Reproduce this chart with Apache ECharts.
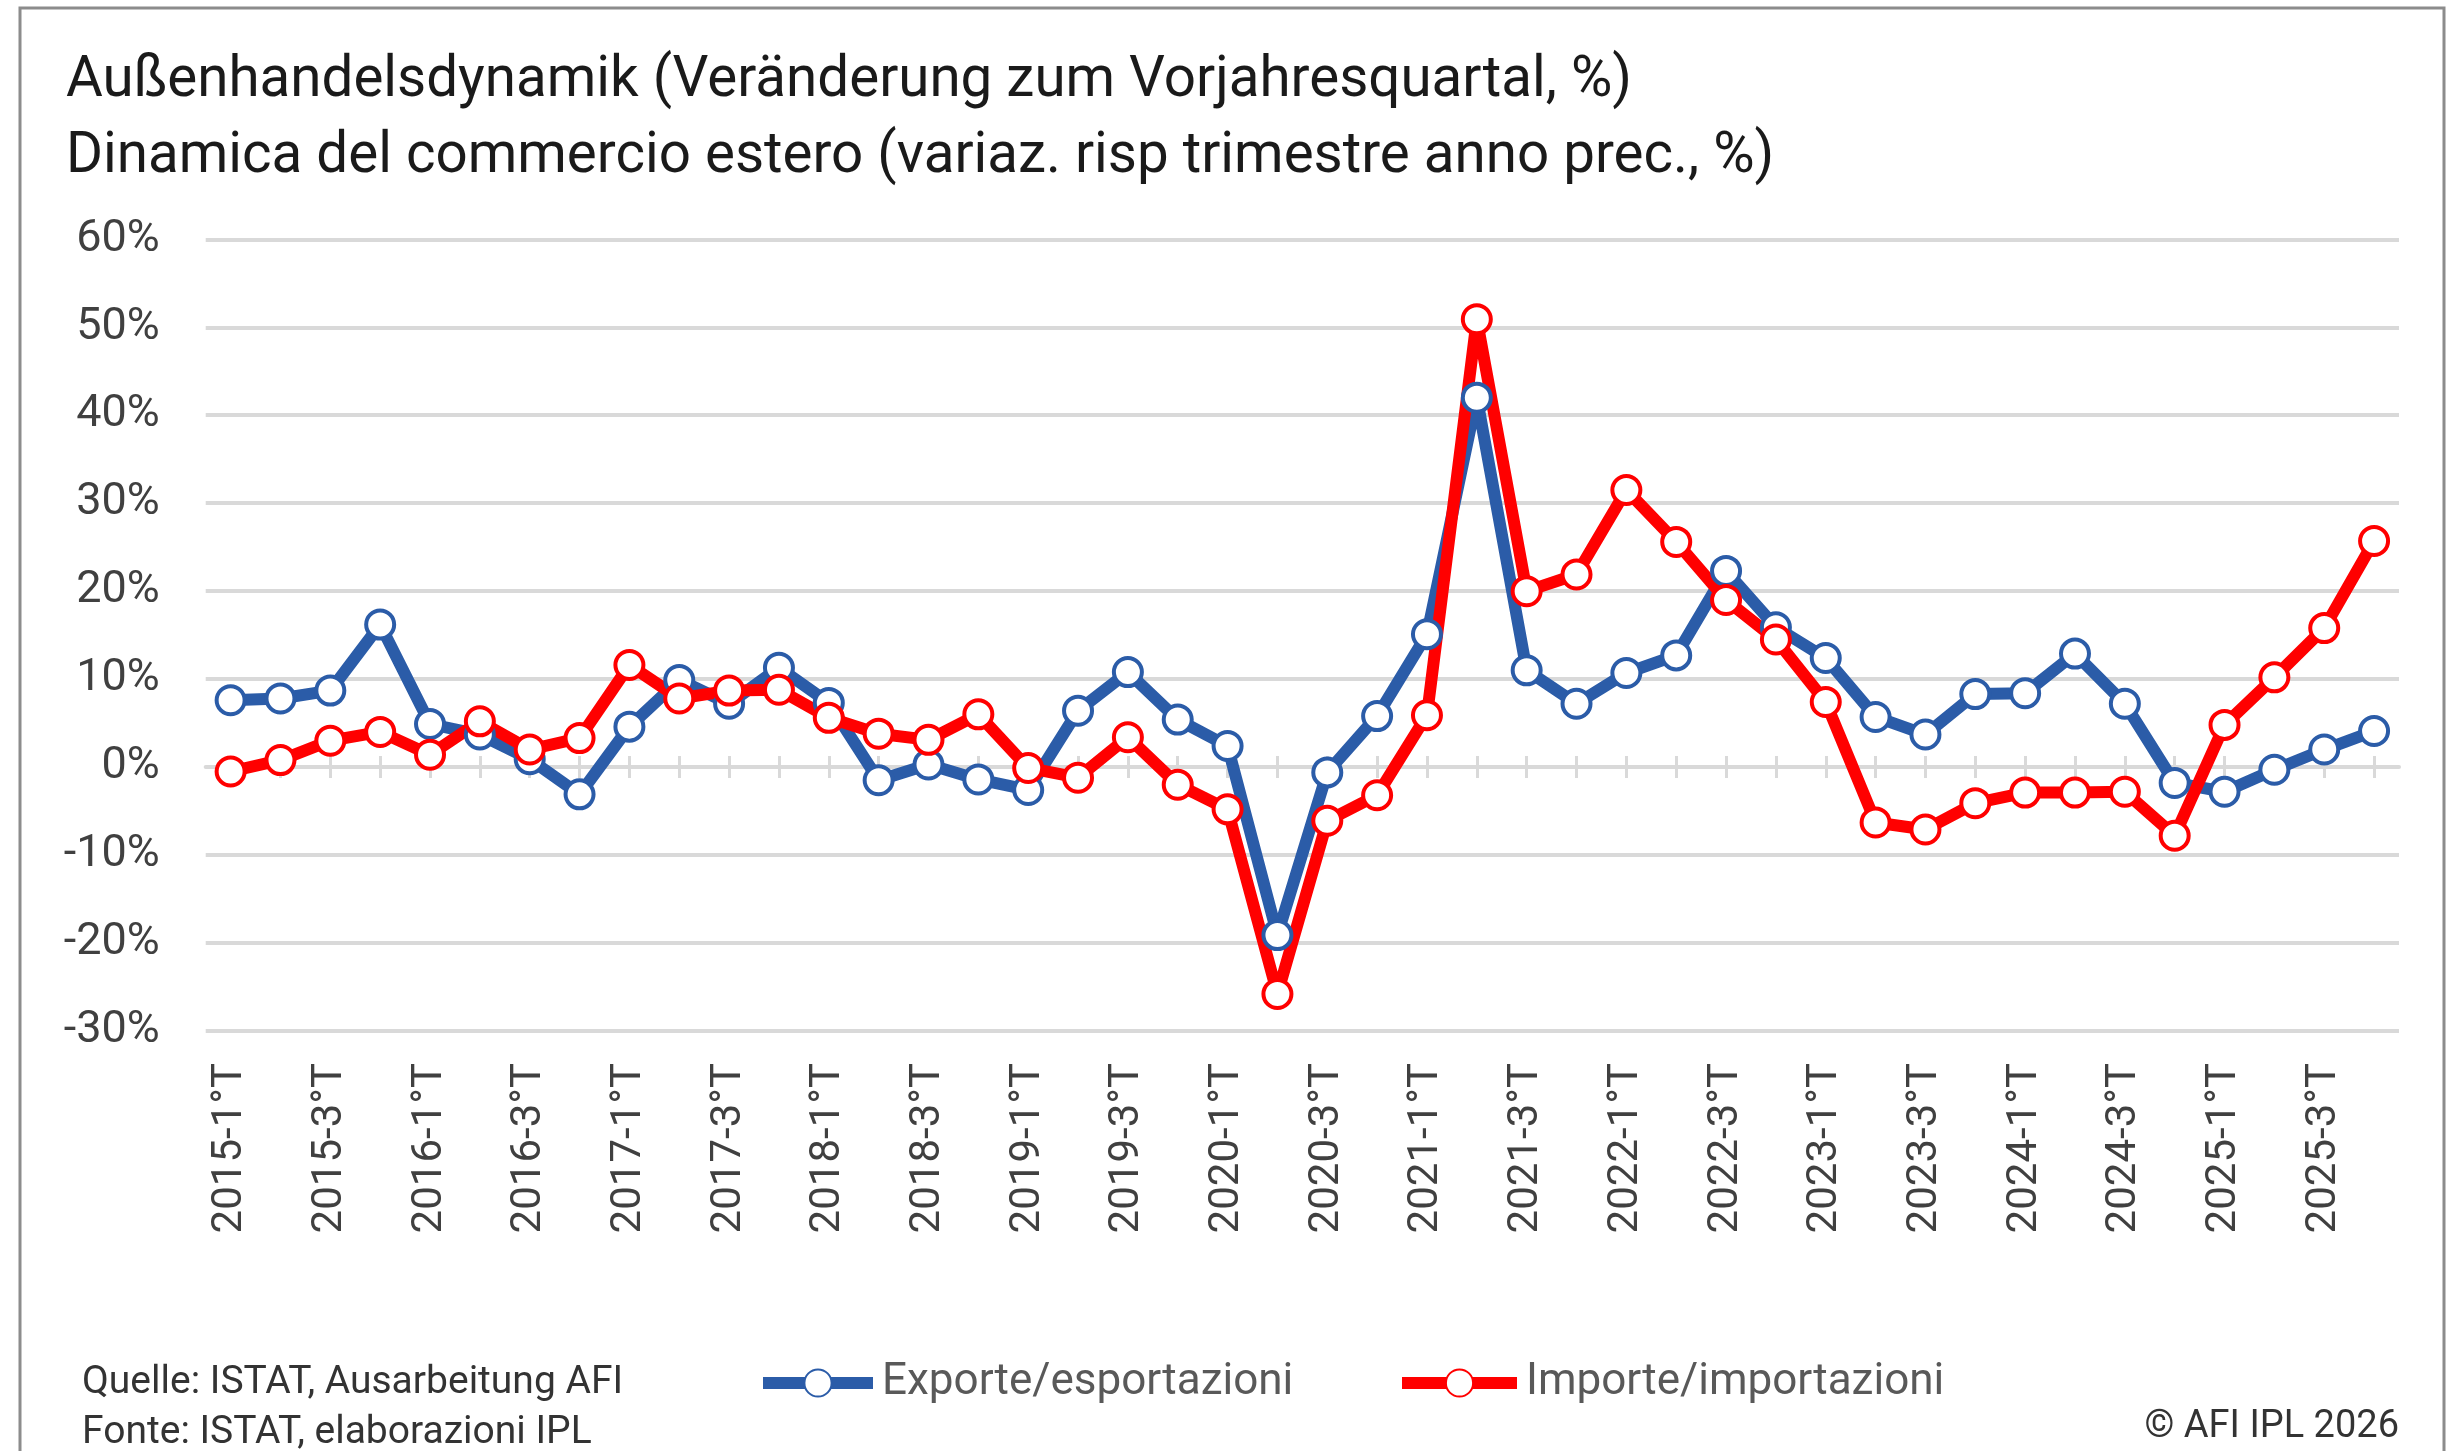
<!DOCTYPE html>
<html>
<head>
<meta charset="utf-8">
<script src="https://cdn.jsdelivr.net/npm/echarts@6/dist/echarts.min.js"></script>
<style>
html,body{margin:0;padding:0;background:#fff;}
#chart{width:2462px;height:1451px;}
</style>
</head>
<body>
<div id="chart"></div>
<script>
const years = ['2015','2016','2017','2018','2019','2020','2021','2022','2023','2024','2025'];
const quarters = ['1°T','2°T','3°T','4°T'];
const categories = [];
years.forEach(y => quarters.forEach(q => categories.push(y + '-' + q)));

const exportsData = [7.6, 7.8, 8.7, 16.2, 4.9, 3.7, 0.9, -3.1, 4.6, 9.9, 7.2, 11.3,
  7.3, -1.5, 0.3, -1.4, -2.6, 6.4, 10.8, 5.4, 2.4, -19.1, -0.6, 5.8,
  15.1, 42.0, 11.0, 7.2, 10.7, 12.7, 22.3, 15.9, 12.4, 5.7, 3.7, 8.3,
  8.4, 12.9, 7.2, -1.8, -2.8, -0.3, 2.0, 4.1];
const importsData = [-0.5, 0.8, 3.0, 4.0, 1.4, 5.2, 2.0, 3.3, 11.6, 7.8, 8.7, 8.8,
  5.6, 3.8, 3.1, 6.0, -0.1, -1.2, 3.4, -2.0, -4.8, -25.8, -6.1, -3.2,
  5.9, 50.9, 20.0, 21.9, 31.5, 25.6, 19.0, 14.5, 7.4, -6.3, -7.1, -4.1,
  -2.9, -2.9, -2.8, -7.8, 4.8, 10.2, 15.8, 25.7];

const seriesNames = ['Exporte/esportazioni', 'Importe/importazioni'];
const titleLines = ['Außenhandelsdynamik (Veränderung zum Vorjahresquartal, %)',
  'Dinamica del commercio estero (variaz. risp trimestre anno prec., %)'];
const sourceLines = ['Quelle: ISTAT, Ausarbeitung AFI', 'Fonte: ISTAT, elaborazioni IPL'];
const copyright = '© AFI IPL 2026';
const yMin = -30, yMax = 60, yStep = 10;

const FONT = 'Roboto';
const BLUE = '#2B5CA8';
const RED = '#FF0000';
const GRID = '#D9D9D9';

const chart = echarts.init(document.getElementById('chart'), null, {renderer: 'canvas'});

function lineSeries(name, data, color) {
  return {
    name: name,
    type: 'line',
    data: data,
    symbol: 'circle',
    symbolSize: 28,
    lineStyle: {color: color, width: 12},
    itemStyle: {color: '#fff', borderColor: color, borderWidth: 4},
    emphasis: {disabled: true},
    animation: false,
    z: 3
  };
}

const option = {
  backgroundColor: '#fff',
  animation: false,
  graphic: [{
    type: 'rect',
    shape: {x: 20, y: 8, width: 2424, height: 1470},
    style: {fill: 'none', stroke: '#8C8C8C', lineWidth: 3},
    silent: true, z: -1
  }],
  title: [{
    text: titleLines.join('\n'),
    left: 66, top: 44, padding: 0,
    textStyle: {fontFamily: FONT, fontSize: 56.5, fontWeight: 'normal', color: '#1A1A1A', lineHeight: 76}
  }, {
    text: sourceLines.join('\n'),
    left: 82, top: 1358, padding: 0,
    textStyle: {fontFamily: FONT, fontSize: 39, fontWeight: 'normal', color: '#333333', lineHeight: 50}
  }, {
    text: copyright,
    right: 63, top: 1408, padding: 0,
    textStyle: {fontFamily: FONT, fontSize: 38, fontWeight: 'normal', color: '#333333', lineHeight: 38}
  }],
  legend: [{
    data: [seriesNames[0]],
    left: 757, top: 1361, padding: 0,
    itemWidth: 110, itemHeight: 34, itemGap: 0,
    lineStyle: {width: 12},
    textStyle: {fontFamily: FONT, fontSize: 44, color: '#595959', padding: [0, 0, 0, 4]},
    selectedMode: false
  }, {
    data: [seriesNames[1]],
    left: 1396, top: 1361, padding: 0,
    itemWidth: 115, itemHeight: 34, itemGap: 0,
    lineStyle: {width: 12},
    textStyle: {fontFamily: FONT, fontSize: 44, color: '#595959', padding: [0, 0, 0, 4]},
    selectedMode: false
  }],
  grid: {left: 205.7, right: 63, top: 239.3, bottom: 420, containLabel: false},
  xAxis: [{
    type: 'category',
    data: categories,
    position: 'bottom',
    boundaryGap: true,
    axisLine: {show: false, onZero: false},
    axisTick: {show: false},
    axisLabel: {
      interval: 1, rotate: 90, margin: 32,
      fontFamily: FONT, fontSize: 42, color: '#404040'
    },
    splitLine: {show: false}
  }, {
    type: 'category',
    data: categories,
    position: 'bottom',
    boundaryGap: true,
    axisLine: {show: true, onZero: true, onZeroAxisIndex: 0, lineStyle: {color: GRID, width: 4}},
    axisTick: {show: true, alignWithLabel: true, interval: 0, length: 11, lineStyle: {color: GRID, width: 3}},
    axisLabel: {show: false},
    splitLine: {show: false}
  }, {
    type: 'category',
    data: categories,
    position: 'top',
    boundaryGap: true,
    axisLine: {show: false, onZero: true, onZeroAxisIndex: 0},
    axisTick: {show: true, alignWithLabel: true, interval: 0, length: 11, lineStyle: {color: GRID, width: 3}},
    axisLabel: {show: false},
    splitLine: {show: false}
  }],
  yAxis: {
    type: 'value',
    min: yMin, max: yMax, interval: yStep,
    axisLine: {show: false},
    axisTick: {show: false},
    axisLabel: {
      formatter: '{value}%', margin: 46,
      fontFamily: FONT, fontSize: 45, color: '#404040'
    },
    splitLine: {show: true, lineStyle: {color: GRID, width: 4}}
  },
  series: [
    lineSeries(seriesNames[0], exportsData, BLUE),
    lineSeries(seriesNames[1], importsData, RED)
  ]
};
chart.setOption(option);
</script>
</body>
</html>
